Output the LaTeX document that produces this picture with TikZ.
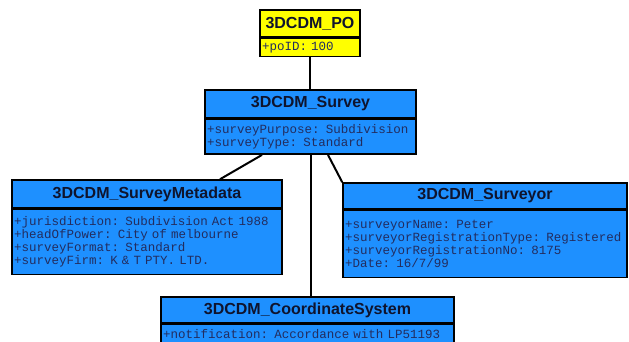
\documentclass[tikz,border=0pt]{standalone}
\usepackage{fontspec}
\usetikzlibrary{positioning}
\newfontfamily\headfont{Liberation Sans}
\newfontfamily\attrfont{Liberation Mono}[WordSpace={1,0,0}]
\definecolor{umlblue}{RGB}{30,144,255}
\definecolor{umlyellow}{RGB}{255,255,0}
\definecolor{attrtext}{RGB}{35,45,95}
\definecolor{headtext}{RGB}{15,20,45}
\begin{document}
\begin{tikzpicture}[x=1pt,y=-1pt,
    classhead/.style={draw=black,line width=1.5pt,fill=umlblue,text=headtext,inner sep=0pt,font=\headfont\bfseries\fontsize{16}{18}\selectfont},
    classattr/.style={draw=black,line width=1.5pt,fill=umlblue,text=attrtext,align=left,inner xsep=2pt,inner ysep=5pt,font=\attrfont\fontsize{12.5}{13}\selectfont},
    link/.style={draw=black,line width=2pt}]
    \useasboundingbox (0,0) rectangle (629,342);
    \node[classhead,fill=umlyellow,minimum width=100,minimum height=27] (po)       at (310,23.5)  {3DCDM\_PO};
    \node[classattr,fill=umlyellow,text width=96,inner ysep=2.5pt,minimum height=18,below=0pt of po] (poattr) {+poID: 100};
    \node[classhead,minimum width=211,minimum height=28] (survey)   at (310.5,104) {3DCDM\_Survey};
    \node[classattr,text width=207,minimum height=34,below=0pt of survey] (surveyattr) {+surveyPurpose: Subdivision\\+surveyType: Standard};
    \node[classhead,minimum width=270,minimum height=28] (meta)     at (147,194)   {3DCDM\_SurveyMetadata};
    \node[classattr,text width=266,minimum height=65,below=0pt of meta] (metaattr) {+jurisdiction: Subdivision Act 1988\\+headOfPower: City of melbourne\\+surveyFormat: Standard\\+surveyFirm: K \& T PTY. LTD.};
    \node[classhead,minimum width=284,minimum height=26] (surveyor) at (485,196)   {3DCDM\_Surveyor};
    \node[classattr,text width=280,minimum height=67,below=0pt of surveyor] (surveyorattr) {+surveyorName: Peter\\+surveyorRegistrationType: Registered\\+surveyorRegistrationNo: 8175\\+Date: 16/7/99};
    \node[classhead,minimum width=293,minimum height=26] (coord)    at (307.5,310) {3DCDM\_CoordinateSystem};
    \node[classattr,text width=289,below=0pt of coord] (coordattr) {+notification: Accordance with LP51193};
    \draw[link] (poattr.south) -- (poattr.south |- survey.north);
    \draw[link] ([xshift=-48.5]surveyattr.south) -- ([xshift=73]meta.north);
    \draw[link] ([xshift=0.5]surveyattr.south) -- ([xshift=0.5]surveyattr.south |- coord.north);
    \draw[link] ([xshift=17.5]surveyattr.south) -- (surveyor.north west);
\end{tikzpicture}
\end{document}
